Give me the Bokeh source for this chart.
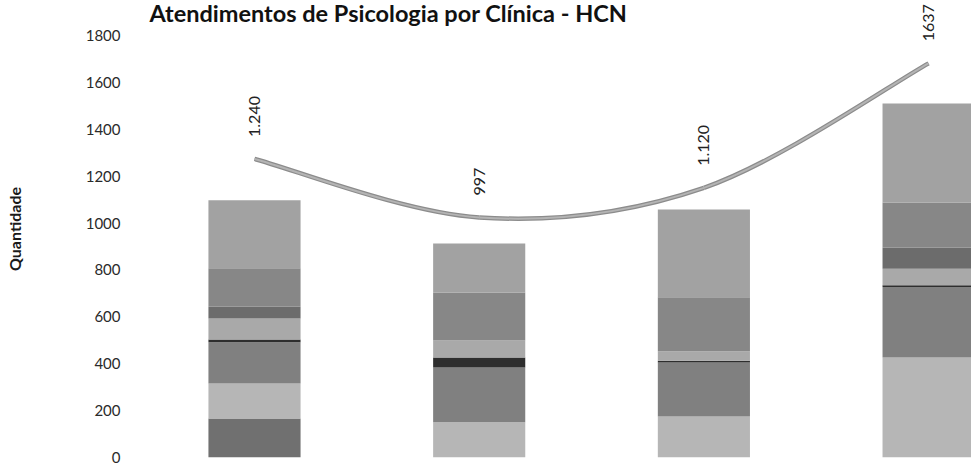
import numpy as np
from bokeh.plotting import figure
from bokeh.models import Range1d, FixedTicker, ColumnDataSource, Label
from bokeh.core.properties import value
from bokeh.embed import file_html
from bokeh.resources import INLINE

# ---------------- data ----------------
titulo = "Atendimentos de Psicologia por Clínica - HCN"
eixo_y = "Quantidade"
posicoes = [0, 1, 2, 3]

# stacked segments (bottom -> top)
seg_a = [166, 0, 0, 0]
seg_b = [150, 150, 175, 427]
seg_c = [175, 234, 230, 300]
seg_d = [12, 43, 8, 8]
seg_e = [90, 72, 40, 70]
seg_f = [50, 0, 0, 90]
seg_g = [164, 205, 230, 193]
seg_h = [290, 209, 375, 422]

# line (total) values and their labels
total = [1240, 997, 1120, 1637]
rotulos = ["1.240", "997", "1.120", "1637"]

ticks_y = [0, 200, 400, 600, 800, 1000, 1200, 1400, 1600, 1800]

# ---------------- figure ----------------
FONT = "Lato"
p = figure(width=971, height=468, output_backend="svg", toolbar_location=None,
           x_axis_location=None, x_range=Range1d(-0.5296, 3.191),
           y_range=Range1d(0, 1949), min_border_left=135, min_border_right=0,
           min_border_top=0, min_border_bottom=11)
p.extra_y_ranges = {"linha": Range1d(0, 1898)}
p.outline_line_color = None
p.grid.visible = False
p.background_fill_color = "white"
p.border_fill_color = "white"

stack_names = ["a", "b", "c", "d", "e", "f", "g", "h"]
cores = ["#707070", "#b6b6b6", "#808080", "#2e2e2e", "#a9a9a9", "#6c6c6c", "#878787", "#a2a2a2"]
src = ColumnDataSource(dict(x=posicoes, a=seg_a, b=seg_b, c=seg_c, d=seg_d,
                            e=seg_e, f=seg_f, g=seg_g, h=seg_h))
p.vbar_stack(stack_names, x="x", width=0.41, color=cores, line_color=None, source=src)

# smooth line via Catmull-Rom derived bezier segments
xs = np.array(posicoes, dtype=float)
ys = np.array(total, dtype=float)
n = len(xs)
x0, y0, x1, y1, cx0, cy0, cx1, cy1 = [], [], [], [], [], [], [], []
for i in range(n - 1):
    im = max(i - 1, 0)
    ip2 = min(i + 2, n - 1)
    x0.append(xs[i]); y0.append(ys[i])
    x1.append(xs[i + 1]); y1.append(ys[i + 1])
    cx0.append(xs[i] + (xs[i + 1] - xs[im]) / 6.0)
    cy0.append(ys[i] + (ys[i + 1] - ys[im]) / 6.0)
    cx1.append(xs[i + 1] - (xs[ip2] - xs[i]) / 6.0)
    cy1.append(ys[i + 1] - (ys[ip2] - ys[i]) / 6.0)
p.bezier(x0=x0, y0=y0, x1=x1, y1=y1, cx0=cx0, cy0=cy0, cx1=cx1, cy1=cy1,
         line_color="#8c8c8c", line_width=4.5, y_range_name="linha")
p.bezier(x0=x0, y0=y0, x1=x1, y1=y1, cx0=cx0, cy0=cy0, cx1=cx1, cy1=cy1,
         line_color="#b4b4b4", line_width=2, y_range_name="linha")

lab_src = ColumnDataSource(dict(x=posicoes, y=total, t=rotulos))
p.text(x="x", y="y", text="t", source=lab_src, y_range_name="linha",
       angle=np.pi / 2, text_align="left", text_baseline="middle",
       y_offset=-22, text_font=value(FONT), text_font_size="16px", text_color="#222222")

# y axis
ax = p.yaxis[0]
ax.ticker = FixedTicker(ticks=ticks_y)
ax.axis_line_color = None
ax.major_tick_line_color = None
ax.minor_tick_line_color = None
ax.major_label_standoff = 9
ax.major_label_text_font = FONT
ax.major_label_text_font_size = "15px"
ax.major_label_text_color = "#2a2a2a"
ax.axis_label = eixo_y
ax.axis_label_text_font = FONT
ax.axis_label_text_font_style = "bold"
ax.axis_label_text_font_size = "16px"
ax.axis_label_text_color = "#1a1a1a"
ax.axis_label_standoff = 59

# title
p.add_layout(Label(x=0.596, y=1894, text=titulo, text_align="center",
                   text_baseline="alphabetic", text_font=FONT, text_font_style="bold",
                   text_font_size="23.5px", text_color="#111111"))

open("out.html", "w").write(file_html(p, INLINE))
